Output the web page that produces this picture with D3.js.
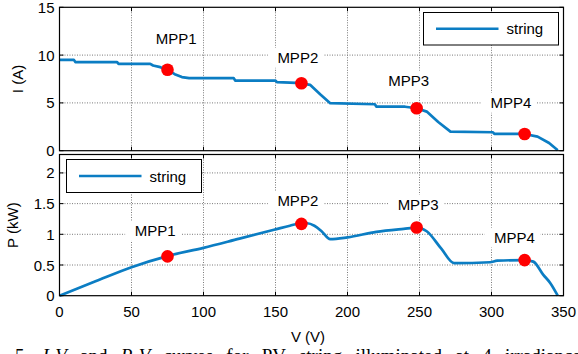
<!DOCTYPE html>
<html>
<head>
<meta charset="utf-8">
<script src="https://cdn.jsdelivr.net/npm/d3@7"></script>
<style>
  body { margin: 0; background: #fff; }
  svg { display: block; }
  text { font-family: "Liberation Sans", Arial, sans-serif; }
</style>
</head>
<body>
<div id="chart"></div>
<script>
// I-V curve of the string
const ivVoltage = [0, 10, 11, 40, 41, 63, 65, 70, 75, 80, 85, 90, 121, 122, 150, 151, 160, 168, 174, 181, 188, 219, 220, 240, 248, 255, 263, 271.5, 301, 302, 323, 332, 340, 346];
const ivCurrent = [9.5, 9.5, 9.27, 9.27, 9.09, 9.09, 8.91, 8.74, 8.46, 8.0, 7.7, 7.59, 7.59, 7.34, 7.34, 7.17, 7.12, 7.06, 6.89, 5.9, 4.97, 4.86, 4.62, 4.6, 4.44, 4.09, 3.0, 1.99, 1.93, 1.75, 1.75, 1.47, 0.8, 0.05];

// P-V curve of the string (kW)
const pvVoltage = [0, 25, 50, 75, 100, 125, 150, 160, 168, 172, 177, 182, 188, 200, 220, 239, 248, 255, 265, 274, 299, 304, 323, 329, 336, 341, 346];
const pvPower = [0, 0.235, 0.465, 0.645, 0.78, 0.93, 1.08, 1.14, 1.18, 1.18, 1.14, 1.05, 0.92, 0.95, 1.04, 1.09, 1.11, 1.05, 0.77, 0.53, 0.545, 0.57, 0.58, 0.555, 0.34, 0.2, 0.0];

// maximum power points
const mppNames = ['MPP1', 'MPP2', 'MPP3', 'MPP4'];
const mppVoltage = [75, 168, 248, 323];
const mppCurrent = [8.46, 7.06, 4.44, 1.75];
const mppPower = [0.64, 1.17, 1.11, 0.58];

// where the MPP labels sit, in data units (like MATLAB text())
const ivLabelV = [81, 165.5, 242.5, 313.5];
const ivLabelI = [11.2, 9.2, 6.8, 4.5];
const pvLabelV = [66.5, 165.5, 249, 316];
const pvLabelP = [0.975, 1.455, 1.4, 0.865];

const xTicks = [0, 50, 100, 150, 200, 250, 300, 350];
const iTicks = [0, 5, 10, 15];
const pTicks = [0, 0.5, 1, 1.5, 2];

const W = 578, H = 354;
const blue = '#0b7dc3';

const svg = d3.select('#chart').append('svg')
    .attr('width', W)
    .attr('height', H);

const x = d3.scaleLinear().domain([0, 350]).range([59.5, 563.5]);

function drawPanel(cfg) {
    const y = cfg.y;
    const [x0, x1] = x.range();
    const [yb, yt] = y.range();
    const g = svg.append('g');

    // white plot area
    g.append('rect')
        .attr('x', x0).attr('y', yt)
        .attr('width', x1 - x0).attr('height', yb - yt)
        .attr('fill', '#fff');

    // dotted grid
    xTicks.slice(1, -1).forEach(t => {
        g.append('line')
            .attr('x1', x(t)).attr('x2', x(t))
            .attr('y1', yt).attr('y2', yb)
            .attr('stroke', '#7a7a7a')
            .attr('stroke-width', 1)
            .attr('stroke-dasharray', '1,1.5');
    });
    cfg.yTicks.forEach(t => {
        if (y(t) <= yt + 1 || y(t) >= yb - 1) return;
        g.append('line')
            .attr('x1', x0).attr('x2', x1)
            .attr('y1', y(t)).attr('y2', y(t))
            .attr('stroke', '#7a7a7a')
            .attr('stroke-width', 1)
            .attr('stroke-dasharray', '1,1.5');
    });

    // tick marks inside on all four sides
    xTicks.forEach(t => {
        g.append('line').attr('x1', x(t)).attr('x2', x(t)).attr('y1', yb).attr('y2', yb - 4).attr('stroke', '#000');
        g.append('line').attr('x1', x(t)).attr('x2', x(t)).attr('y1', yt).attr('y2', yt + 4).attr('stroke', '#000');
    });
    cfg.yTicks.forEach(t => {
        g.append('line').attr('x1', x0).attr('x2', x0 + 4).attr('y1', y(t)).attr('y2', y(t)).attr('stroke', '#000');
        g.append('line').attr('x1', x1).attr('x2', x1 - 4).attr('y1', y(t)).attr('y2', y(t)).attr('stroke', '#000');
    });

    // y tick labels
    g.selectAll('text.ytick')
        .data(cfg.yTicks)
        .enter()
        .append('text')
        .attr('class', 'ytick')
        .attr('x', x0 - 5)
        .attr('y', d => y(d) + 5.5)
        .attr('text-anchor', 'end')
        .style('font-size', '15px')
        .text(d => d);

    // y label
    g.append('text')
        .attr('transform', `translate(${cfg.yLabelX}, ${(yt + yb) / 2}) rotate(-90)`)
        .attr('text-anchor', 'middle')
        .style('font-size', '15px')
        .text(cfg.yLabel);

    // curve
    const line = d3.line()
        .x(d => x(d[0]))
        .y(d => y(d[1]))
        .curve(cfg.curve);
    g.append('path')
        .datum(d3.zip(cfg.vs, cfg.vals))
        .attr('d', line)
        .attr('fill', 'none')
        .attr('stroke', blue)
        .attr('stroke-width', 2.7)
        .attr('stroke-linejoin', 'round');

    // MPP dots
    g.selectAll('circle.mpp')
        .data(d3.zip(mppVoltage, cfg.mpp))
        .enter()
        .append('circle')
        .attr('class', 'mpp')
        .attr('cx', d => x(d[0]))
        .attr('cy', d => y(d[1]))
        .attr('r', 6.3)
        .attr('fill', '#ff0000');

    // MPP labels with white background
    mppNames.forEach((name, i) => {
        const lx = x(cfg.labelV[i]);
        const ly = y(cfg.labelY[i]);
        g.append('rect')
            .attr('x', lx - 30).attr('y', ly - 15)
            .attr('width', 56).attr('height', 20)
            .attr('fill', '#fff');
        g.append('text')
            .attr('x', lx)
            .attr('y', ly)
            .attr('text-anchor', 'middle')
            .style('font-size', '15px')
            .text(name);
    });

    // legend
    const lg = cfg.legend;
    g.append('rect')
        .attr('x', lg.x).attr('y', lg.y)
        .attr('width', lg.w).attr('height', lg.h)
        .attr('fill', '#fff')
        .attr('stroke', '#000')
        .attr('stroke-width', 1);
    g.append('line')
        .attr('x1', lg.x + 12.5).attr('x2', lg.x + 75)
        .attr('y1', lg.y + lg.h / 2).attr('y2', lg.y + lg.h / 2)
        .attr('stroke', blue)
        .attr('stroke-width', 2.7);
    g.append('text')
        .attr('x', lg.x + 83)
        .attr('y', lg.y + lg.h / 2 + 5.5)
        .style('font-size', '15px')
        .text('string');

    // axes box
    g.append('rect')
        .attr('x', x0).attr('y', yt)
        .attr('width', x1 - x0).attr('height', yb - yt)
        .attr('fill', 'none')
        .attr('stroke', '#000')
        .attr('stroke-width', 1.2);
}

drawPanel({
    y: d3.scaleLinear().domain([0, 15]).range([150.7, 7.3]),
    yTicks: iTicks,
    yLabel: 'I (A)',
    yLabelX: 23,
    vs: ivVoltage,
    vals: ivCurrent,
    curve: d3.curveLinear,
    mpp: mppCurrent,
    labelV: ivLabelV,
    labelY: ivLabelI,
    legend: {x: 423.5, y: 12.5, w: 135, h: 32.5}
});

drawPanel({
    y: d3.scaleLinear().domain([0, 2.3]).range([295.7, 154.5]),
    yTicks: pTicks,
    yLabel: 'P (kW)',
    yLabelX: 18,
    vs: pvVoltage,
    vals: pvPower,
    curve: d3.curveMonotoneX,
    mpp: mppPower,
    labelV: pvLabelV,
    labelY: pvLabelP,
    legend: {x: 66.5, y: 159.5, w: 135, h: 33}
});

// x tick labels (bottom panel only)
svg.selectAll('text.xtick')
    .data(xTicks)
    .enter()
    .append('text')
    .attr('class', 'xtick')
    .attr('x', d => x(d))
    .attr('y', 316.5)
    .attr('text-anchor', 'middle')
    .style('font-size', '15px')
    .text(d => d);

svg.append('text')
    .attr('x', 308)
    .attr('y', 341.5)
    .attr('text-anchor', 'middle')
    .style('font-size', '15px')
    .text('V (V)');

// caption, cut off by the bottom edge as in the scan
svg.append('text')
    .attr('x', 15)
    .attr('y', 362)
    .style('font-family', '"Liberation Serif", "Times New Roman", serif')
    .style('font-size', '19px')
    .style('word-spacing', '8.5px')
    .html('5. <tspan font-style="italic">I-V</tspan> and <tspan font-style="italic">P-V</tspan> curves for PV string illuminated at 4 irradiance levels');
</script>
</body>
</html>
